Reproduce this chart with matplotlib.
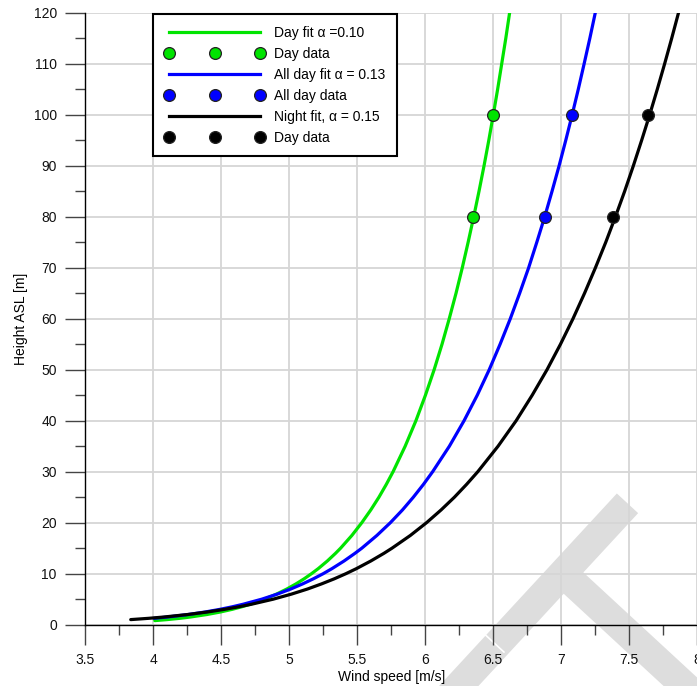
import matplotlib
matplotlib.use('Agg')
import matplotlib.pyplot as plt
from matplotlib.lines import Line2D
from matplotlib.patches import Polygon
import numpy as np

plt.rcParams['font.family'] = ['Liberation Sans', 'DejaVu Sans']

# ---------------- data ----------------
COMMON_H = [1.5, 2, 2.5, 3, 3.5, 4, 5, 6, 7, 8, 9, 10, 11, 12.5, 14, 15, 17.5, 20, 22.5, 25, 27.5, 30,
            35, 40, 45, 50, 55, 60, 65, 70, 75, 80, 85, 90, 95, 100, 105, 110, 115, 120]

DAY_FIT_H = [0.8, 1, 1.25] + COMMON_H
DAY_FIT_V = [4.011, 4.101, 4.194,
             4.271, 4.395, 4.495, 4.578, 4.649, 4.711, 4.817, 4.906, 4.982, 5.049, 5.109, 5.163, 5.213,
             5.280, 5.340, 5.377, 5.460, 5.533, 5.599, 5.659, 5.713, 5.763, 5.852, 5.931, 6.001, 6.065,
             6.123, 6.176, 6.226, 6.272, 6.315, 6.356, 6.395, 6.432, 6.467, 6.500, 6.532, 6.562, 6.592, 6.620]

ALL_FIT_H = [1.25] + COMMON_H
ALL_FIT_V = [4.005,
             4.101, 4.257, 4.383, 4.488, 4.579, 4.659, 4.797, 4.912, 5.011, 5.098, 5.177, 5.249, 5.314,
             5.403, 5.483, 5.533, 5.644, 5.743, 5.832, 5.912, 5.986, 6.054, 6.177, 6.285, 6.382, 6.470,
             6.550, 6.625, 6.694, 6.760, 6.820, 6.878, 6.932, 6.984, 7.033, 7.080, 7.125, 7.168, 7.210, 7.250]

NIGHT_FIT_H = [1, 1.25] + COMMON_H
NIGHT_FIT_V = [3.834, 3.965,
               4.075, 4.254, 4.399, 4.521, 4.627, 4.720, 4.881, 5.016, 5.134, 5.237, 5.331, 5.416, 5.494,
               5.600, 5.696, 5.755, 5.890, 6.009, 6.116, 6.214, 6.303, 6.386, 6.535, 6.668, 6.786, 6.895,
               6.994, 7.086, 7.171, 7.251, 7.327, 7.398, 7.466, 7.530, 7.591, 7.650, 7.706, 7.760, 7.812, 7.862]

DATA_H = [80, 100]
DAY_DATA_V = [6.35, 6.50]
ALL_DATA_V = [6.88, 7.08]
NIGHT_DATA_V = [7.38, 7.64]

LABELS = ['Day fit \u03b1 =0.10', 'Day data', 'All day fit \u03b1 = 0.13',
          'All day data', 'Night fit, \u03b1 = 0.15', 'Day data']

X_TICKS = [3.5, 4, 4.5, 5, 5.5, 6, 6.5, 7, 7.5, 8]
X_TICK_LABELS = ['3.5', '4', '4.5', '5', '5.5', '6', '6.5', '7', '7.5', '8']
Y_TICKS = [0, 10, 20, 30, 40, 50, 60, 70, 80, 90, 100, 110, 120]

GREEN = '#00e400'
BLUE = '#0000ff'
BLACK = '#000000'

# ---------------- figure ----------------
W, H = 697, 686
fig = plt.figure(figsize=(W / 100, H / 100), dpi=100)
fig.patch.set_facecolor('white')
ax = fig.add_axes([85.3 / W, (H - 624.7) / H, 612 / W, 612 / H])
ax.set_facecolor('none')

# watermark (grey X shape) behind the axes
def to_fig(p):
    return (p[0] / W, 1 - p[1] / H)

d = np.array([-0.678, 0.734])
n = np.array([0.734, 0.678])
hw = 14.5
P1 = np.array([627.5, 503.3])
P2 = P1 + 320 * d
band1 = [P1 + hw * n, P1 - hw * n, P2 - hw * n, P2 + hw * n]
Q = P1 + 95.3 * d
Q2 = Q + 260 * n
band2 = [Q + hw * d, Q - hw * d, Q2 - hw * d, Q2 + hw * d]
for band in (band1, band2):
    fig.add_artist(Polygon([to_fig(p) for p in band], closed=True, transform=fig.transFigure,
                           facecolor='#dddddd', edgecolor='none', zorder=-2))
G = np.array([492.2, 641.2])
g1, g2 = to_fig(G - 16 * n), to_fig(G + 16 * n)
fig.add_artist(Line2D([g1[0], g2[0]], [g1[1], g2[1]], transform=fig.transFigure,
                      color='white', lw=1.2, zorder=-1))

# curves
line_kw = dict(lw=2.3, zorder=3, solid_capstyle='round', solid_joinstyle='round')
ax.plot(DAY_FIT_V, DAY_FIT_H, color=GREEN, **line_kw)
ax.plot(ALL_FIT_V, ALL_FIT_H, color=BLUE, **line_kw)
ax.plot(NIGHT_FIT_V, NIGHT_FIT_H, color=BLACK, **line_kw)

mk = dict(marker='o', linestyle='none', markersize=8.5, markeredgecolor='#222222', markeredgewidth=0.9, zorder=4)
ax.plot(DAY_DATA_V, DATA_H, markerfacecolor=GREEN, **mk)
ax.plot(ALL_DATA_V, DATA_H, markerfacecolor=BLUE, **mk)
ax.plot(NIGHT_DATA_V, DATA_H, markerfacecolor=BLACK, **mk)

# axes styling
ax.set_xlim(3.5, 8)
ax.set_ylim(0, 120)
ax.set_xticks(X_TICKS)
ax.set_xticklabels(X_TICK_LABELS)
ax.set_xticks(np.arange(3.75, 8, 0.5), minor=True)
ax.set_yticks(Y_TICKS)
ax.set_yticks(np.arange(5, 120, 10), minor=True)
ax.grid(True, which='major', color='#d6d6d6', lw=1.3)
ax.set_axisbelow(True)
for s in ('top', 'right'):
    ax.spines[s].set_visible(False)
for s in ('left', 'bottom'):
    ax.spines[s].set_color('black')
    ax.spines[s].set_linewidth(1.0)
ax.tick_params(which='major', direction='out', length=14.5, width=1.0, color='#444444',
               labelsize=10, pad=6, labelcolor='#111111')
ax.tick_params(which='minor', direction='out', length=7.2, width=1.0, color='#444444')

ax.set_xlabel('Wind speed [m/s]', fontsize=10, labelpad=2)
ax.set_ylabel('Height ASL [m]', fontsize=10, labelpad=4)

# legend
def marker_handle(color):
    return Line2D([], [], marker='o', linestyle='none', markersize=8.5, markerfacecolor=color,
                  markeredgecolor='#222222', markeredgewidth=0.9)

handles = [
    Line2D([], [], color=GREEN, lw=2.3), marker_handle(GREEN),
    Line2D([], [], color=BLUE, lw=2.3), marker_handle(BLUE),
    Line2D([], [], color=BLACK, lw=2.3), marker_handle(BLACK),
]
leg = ax.legend(handles, LABELS, loc='upper left', bbox_to_anchor=(152.7 / W, 1 - 14 / H),
                bbox_transform=fig.transFigure, borderaxespad=0, numpoints=3,
                handlelength=7.2, handletextpad=0.7, labelspacing=0.5, borderpad=0.85,
                fontsize=10, frameon=True, fancybox=False, edgecolor='black', framealpha=1)
leg.get_frame().set_linewidth(1.5)
leg.set_zorder(5)

fig.savefig('out.png', dpi=100)
